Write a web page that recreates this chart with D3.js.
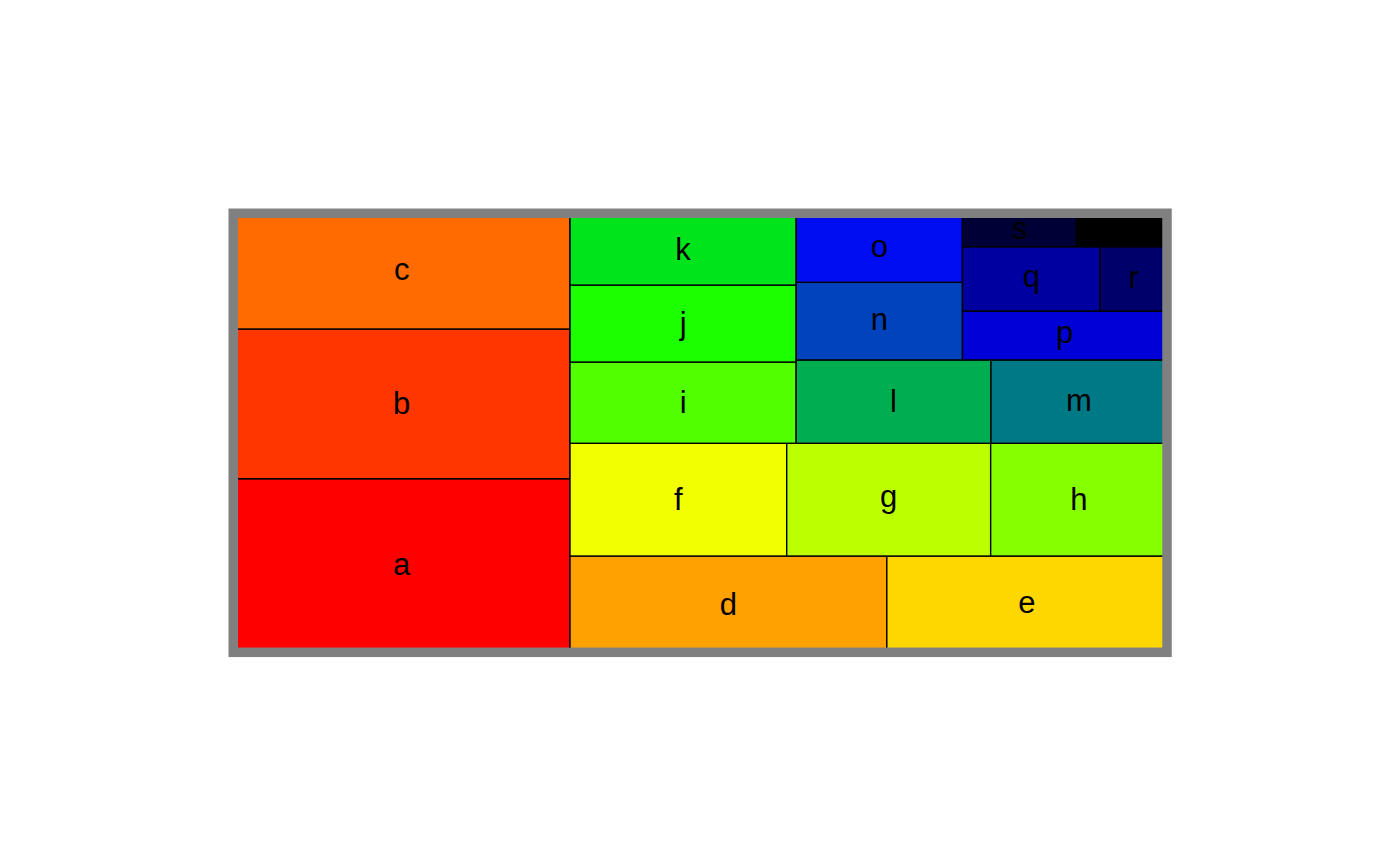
<!DOCTYPE html>
<html>
<head>
<meta charset="utf-8">
<script src="https://cdn.jsdelivr.net/npm/d3@7"></script>
<style>
  html, body { margin: 0; padding: 0; background: #ffffff; }
  svg { display: block; }
</style>
</head>
<body>
<svg id="chart" width="1400" height="866"></svg>
<script>
// ---- data ----
const labels = ["a","b","c","d","e","f","g","h","i","j","k","l","m","n","o","p","q","r","s","t"];
const values = [14.26, 12.30, 9.51, 7.44, 6.58, 5.96, 5.61, 4.85, 4.48, 4.25,
                3.96, 3.96, 3.58, 3.15, 2.80, 2.44, 2.16, 1.05, 0.93, 0.74];
const paletteStops = ["red", "yellow", "#00ff00", "blue", "black"];

// ---- layout ----
const W = 1400, H = 866;
const plot = { left: 233.25, right: 1167, top: 213.25, bottom: 652.3 };
const fontSize = 31;

const svg = d3.select("#chart").attr("width", W).attr("height", H);

// layout is computed in normalised (unit square) coordinates, then mapped to pixels
const x = d3.scaleLinear().domain([0, 1]).range([plot.left, plot.right]);
const y = d3.scaleLinear().domain([0, 1]).range([plot.bottom, plot.top]);

const color = d3.scaleLinear()
  .domain(paletteStops.map((_, i) => i / (paletteStops.length - 1)))
  .range(paletteStops)
  .interpolate(d3.interpolateRgb);

const items = labels.map((l, i) => ({ label: l, value: values[i], index: i }));
const root = d3.hierarchy({ children: items }).sum(d => d.value || 0);

d3.treemap()
  .size([1, 1])
  .tile(d3.treemapSquarify.ratio(1))
  .round(false)(root);

const leaves = root.leaves();
const n = labels.length;

// vertical centring of a label on its glyph box (ascender / x-height / descender letters)
function baselineShift(s) {
  if (/[bdfhijklt]/.test(s)) return 0.34;
  if (/[gpqy]/.test(s)) return 0.25;
  return 0.29;
}

const cells = svg.append("g").attr("class", "cells");
cells.selectAll("rect")
  .data(leaves)
  .join("rect")
  .attr("x", d => x(d.x0))
  .attr("y", d => y(d.y1))
  .attr("width", d => x(d.x1) - x(d.x0))
  .attr("height", d => y(d.y0) - y(d.y1))
  .attr("fill", d => color(d.data.index / (n - 1)))
  .attr("stroke", "#000000")
  .attr("stroke-width", 1.4);

const texts = svg.append("g").attr("class", "labels");
texts.selectAll("text")
  .data(leaves)
  .join("text")
  .attr("x", d => x((d.x0 + d.x1) / 2))
  .attr("y", d => y((d.y0 + d.y1) / 2) + fontSize * baselineShift(d.data.label))
  .attr("text-anchor", "middle")
  .attr("font-family", "'Liberation Sans', Arial, Helvetica, sans-serif")
  .attr("font-size", fontSize)
  .attr("fill", "#000000")
  .text(d => d.data.label);

// outer grey frame drawn on top
svg.append("rect")
  .attr("x", plot.left)
  .attr("y", plot.top)
  .attr("width", plot.right - plot.left)
  .attr("height", plot.bottom - plot.top)
  .attr("fill", "none")
  .attr("stroke", "#808080")
  .attr("stroke-width", 9.5);
</script>
</body>
</html>
